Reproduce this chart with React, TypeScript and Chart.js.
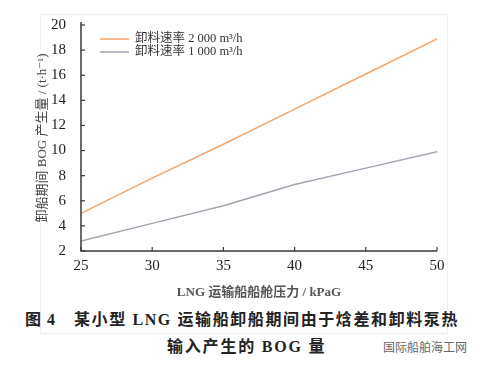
import React, { useEffect, useRef } from "react";
import { Chart, registerables } from "chart.js";

Chart.register(...registerables);

const pressures = [25, 30, 35, 40, 45, 50];
const rate2000 = [5.0, 7.8, 10.5, 13.3, 16.1, 18.9];
const rate1000 = [2.8, 4.2, 5.6, 7.3, 8.6, 9.9];
const seriesLabels = ["卸料速率 2 000 m³/h", "卸料速率 1 000 m³/h"];
const xTitle = "LNG 运输船船舱压力 / kPaG";
const yTitle = "卸船期间 BOG 产生量 / (t·h⁻¹)";
const captionFig = "图 4";
const captionLine1 = "某小型 LNG 运输船卸船期间由于焓差和卸料泵热";
const captionLine2 = "输入产生的 BOG 量";
const watermark = "国际船舶海工网";

const SERIF = '"Liberation Serif", "DejaVu Serif", "Noto Sans CJK SC", serif';
const COLORS = ["#f3a66c", "#a3a3b2"];

const innerTicks = {
  id: "innerTicks",
  afterDraw(chart: any) {
    const { ctx, chartArea, scales } = chart;
    ctx.save();
    ctx.strokeStyle = "#3a3a3a";
    ctx.lineWidth = 1.5;
    ctx.beginPath();
    ctx.moveTo(chartArea.left, chartArea.top - 3);
    ctx.lineTo(chartArea.left, chartArea.bottom);
    ctx.lineTo(chartArea.right, chartArea.bottom);
    ctx.stroke();
    ctx.lineWidth = 1.2;
    scales.y.ticks.forEach((t: any) => {
      const y = scales.y.getPixelForValue(t.value);
      ctx.beginPath();
      ctx.moveTo(chartArea.left, y);
      ctx.lineTo(chartArea.left + 4, y);
      ctx.stroke();
    });
    scales.x.ticks.forEach((t: any) => {
      const x = scales.x.getPixelForValue(t.value);
      ctx.beginPath();
      ctx.moveTo(x, chartArea.bottom);
      ctx.lineTo(x, chartArea.bottom - 4);
      ctx.stroke();
    });
    const lx = chartArea.left + 19;
    const ly = chartArea.top + 14;
    chart.data.datasets.forEach((ds: any, i: number) => {
      const y = ly + i * 13;
      ctx.strokeStyle = ds.borderColor;
      ctx.lineWidth = 1.5;
      ctx.beginPath();
      ctx.moveTo(lx, y);
      ctx.lineTo(lx + 29, y);
      ctx.stroke();
      ctx.fillStyle = "#333";
      ctx.font = `12.5px ${SERIF}`;
      ctx.textBaseline = "middle";
      ctx.textAlign = "left";
      ctx.fillText(ds.label, lx + 35, y);
    });
    ctx.restore();
  },
};

function ChartCanvas() {
  const ref = useRef<HTMLCanvasElement>(null);
  useEffect(() => {
    if (!ref.current) return;
    const chart = new Chart(ref.current, {
      type: "line",
      data: {
        labels: pressures,
        datasets: [
          {
            label: seriesLabels[0],
            data: pressures.map((x, i) => ({ x, y: rate2000[i] })),
            borderColor: COLORS[0],
            borderWidth: 1.5,
            pointRadius: 0,
            tension: 0,
          },
          {
            label: seriesLabels[1],
            data: pressures.map((x, i) => ({ x, y: rate1000[i] })),
            borderColor: COLORS[1],
            borderWidth: 1.5,
            pointRadius: 0,
            tension: 0,
          },
        ],
      },
      options: {
        responsive: false,
        animation: false,
        layout: { padding: { left: 35, top: 25, right: 45, bottom: 0 } },
        plugins: { legend: { display: false }, tooltip: { enabled: false } },
        scales: {
          x: {
            type: "linear",
            min: 25,
            max: 50,
            border: { display: false },
            grid: { display: false },
            ticks: {
              stepSize: 5,
              color: "#222",
              padding: -2,
              font: { family: SERIF, size: 15 },
            },
            title: {
              display: true,
              text: xTitle,
              color: "#555",
              padding: { top: -1, bottom: 0 },
              font: { family: SERIF, size: 13, weight: "bold" },
            },
            afterFit: (s: any) => {
              s.height = 49;
            },
          },
          y: {
            min: 2,
            max: 20,
            border: { display: false },
            grid: { display: false },
            ticks: {
              stepSize: 2,
              color: "#222",
              padding: 7,
              font: { family: SERIF, size: 15 },
            },
            title: {
              display: true,
              text: yTitle,
              color: "#444",
              padding: { top: 0, bottom: 0 },
              font: { family: SERIF, size: 13 },
            },
            afterFit: (s: any) => {
              s.width = 46;
            },
          },
        },
      },
      plugins: [innerTicks],
    } as any);
    return () => chart.destroy();
  }, []);
  return <canvas ref={ref} width={482} height={300} style={{ display: "block" }} />;
}

const captionStyle: React.CSSProperties = {
  position: "absolute",
  fontFamily: SERIF,
  fontWeight: "bold",
  fontSize: 16,
  color: "#222",
  whiteSpace: "nowrap",
  lineHeight: "22px",
};

export default function App() {
  return (
    <div
      style={{
        position: "absolute",
        left: 0,
        top: 0,
        width: 482,
        height: 369,
        background: "#fff",
        overflow: "hidden",
      }}
    >
      <div
        style={{
          position: "absolute",
          left: 40,
          top: 14,
          width: 406,
          height: 318,
          border: "1px solid #f0f0f0",
        }}
      />
      <div style={{ position: "absolute", left: 0, top: 0 }}>
        <ChartCanvas />
      </div>
      <div style={{ ...captionStyle, left: 25, top: 309, letterSpacing: 1 }}>{captionFig}</div>
      <div style={{ ...captionStyle, left: 74, top: 309, letterSpacing: 1.6 }}>{captionLine1}</div>
      <div style={{ ...captionStyle, left: 167, top: 336, letterSpacing: 1.8 }}>{captionLine2}</div>
      <div
        style={{
          position: "absolute",
          left: 383,
          top: 338,
          fontFamily: '"Noto Sans CJK SC", sans-serif',
          fontSize: 12,
          color: "#666",
          whiteSpace: "nowrap",
          lineHeight: "18px",
        }}
      >
        {watermark}
      </div>
    </div>
  );
}
